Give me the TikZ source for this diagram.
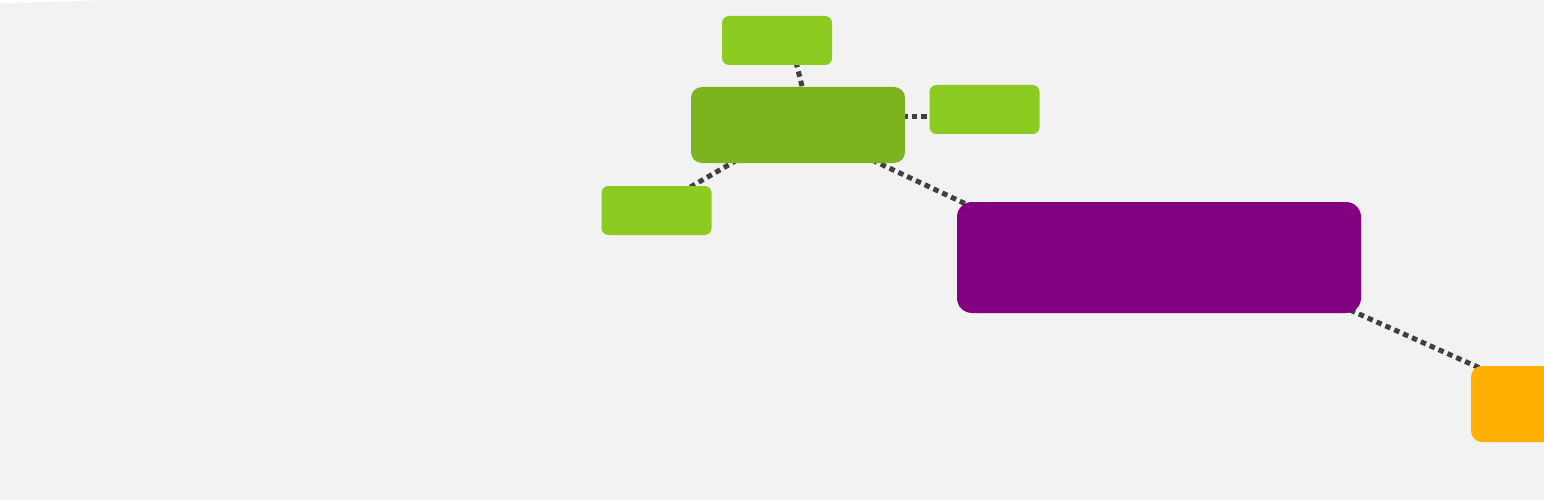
\documentclass[tikz,border=0pt]{standalone}
\usetikzlibrary{calc,backgrounds}
\definecolor{bggray}{HTML}{F2F2F2}
\definecolor{lgreen}{HTML}{8BCB22}
\definecolor{dgreen}{HTML}{7CB31E}
\definecolor{mypurple}{HTML}{800080}
\definecolor{myorange}{HTML}{FFB000}
\definecolor{dotcol}{HTML}{404040}
\pgfdeclarelayer{bottom}
\pgfsetlayers{bottom,background,main}
\tikzset{
  box/.style={draw=none, inner sep=0pt, outer sep=0pt},
  leaf/.style={box, fill=lgreen, minimum width=110pt, minimum height=49pt, rounded corners=7pt},
  hub/.style={box, fill=dgreen, minimum width=214pt, minimum height=76pt, rounded corners=11pt},
  bigbox/.style={box, fill=mypurple, minimum width=404pt, minimum height=111pt, rounded corners=15pt},
  endbox/.style={box, fill=myorange, minimum width=214pt, minimum height=76pt, rounded corners=11pt},
  link/.style={draw=dotcol, line width=5pt, dash pattern=on 5.5pt off 4.2pt}
}
\begin{document}
\begin{tikzpicture}[x=1pt,y=-1pt]
\useasboundingbox (0,0) rectangle (1544,500);
\begin{pgfonlayer}{bottom}
\fill[white] (0,0) rectangle (1544,500);
\fill[bggray] (0,3.5) -- (107,0) -- (1544,0) -- (1544,500) -- (0,500) -- cycle;
\end{pgfonlayer}
\begin{scope}
\clip (0,0) rectangle (1544,500);
\node[leaf] (top) at (777,40.5) {};
\node[hub] (main) at (798,125) {};
\node[leaf] (right) at (984.5,109.5) {};
\node[leaf] (left) at (656.5,210.5) {};
\node[bigbox] (purple) at (1159,257.5) {};
\node[endbox] (orange) at (1578,404) {};
\begin{scope}[on background layer]
\draw[link] ([xshift=19pt,yshift=3pt]top.south) -- ([xshift=5pt,yshift=-3pt]main.north);
\draw[link] ([yshift=8pt,xshift=-3pt]main.east) -- ([yshift=-7.5pt,xshift=3pt]right.west);
\draw[link] ([xshift=-61pt,yshift=3pt]main.south) -- ([xshift=30.5pt,yshift=-3pt]left.north);
\draw[link] ([xshift=74pt,yshift=3pt]main.south) -- ([xshift=11pt,yshift=-3pt]purple.north west);
\draw[link] ([xshift=-11pt,yshift=3pt]purple.south east) -- ([xshift=11pt,yshift=-3pt]orange.north west);
\end{scope}
\end{scope}
\end{tikzpicture}
\end{document}
